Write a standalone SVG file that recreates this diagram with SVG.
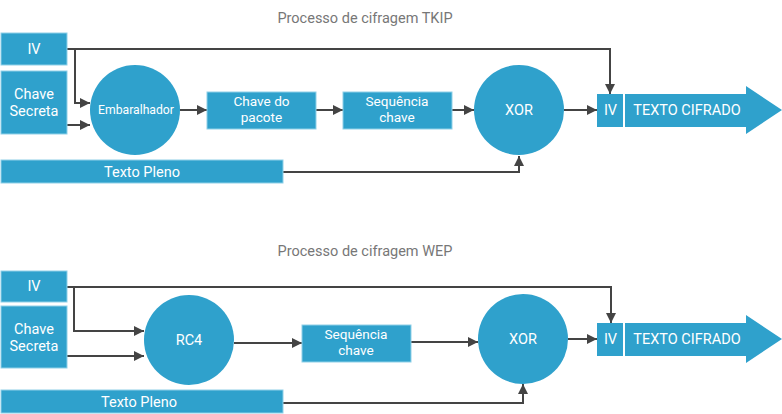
<svg xmlns="http://www.w3.org/2000/svg" width="782" height="414" viewBox="0 0 782 414">
<defs>
<marker id="ah" viewBox="0 0 10 10" refX="10" refY="5" markerWidth="10" markerHeight="10" markerUnits="userSpaceOnUse" orient="auto">
<path d="M0,0 L10,5 L0,10 z" fill="#444"/>
</marker>
</defs>
<style>
.b{fill:#2fa1cc;stroke:#8fd0e8;stroke-width:1}
.c{fill:#2fa1cc}
.t{font-family:Roboto,"Liberation Sans",sans-serif;font-size:14.5px;fill:#fff;text-anchor:middle}
.s{font-size:12.2px}
.m{font-size:13.6px}
.h{font-family:Roboto,"Liberation Sans",sans-serif;font-size:14.5px;fill:#777;text-anchor:middle}
.l{fill:none;stroke:#444;stroke-width:2;marker-end:url(#ah)}
</style>
<rect width="782" height="414" fill="#fff"/>
<text class="h" x="365" y="23">Processo de cifragem TKIP</text>
<text class="h" x="365" y="256">Processo de cifragem WEP</text>
<g id="connectors">
<path class="l" d="M67,49 H610 V94"/>
<path class="l" d="M75,49 V103 H90"/>
<path class="l" d="M67,125 H90"/>
<path class="l" d="M180,110 H207"/>
<path class="l" d="M316,110 H343"/>
<path class="l" d="M452,110 H474"/>
<path class="l" d="M564,110 H597"/>
<path class="l" d="M283,172 H519 V156"/>
<path class="l" d="M67,287 H611 V323"/>
<path class="l" d="M74,287 V331 H144"/>
<path class="l" d="M67,356 H144"/>
<path class="l" d="M234,343 H302"/>
<path class="l" d="M411,342 H478"/>
<path class="l" d="M568,339 H597"/>
<path class="l" d="M283,403 H523 V384"/>
</g>
<g id="tkip-iv"><rect class="b" x="1" y="33" width="66" height="32"/><text class="t" x="34" y="54">IV</text></g>
<g id="tkip-chave"><rect class="b" x="1" y="71" width="66" height="63"/><text class="t"><tspan x="34" y="99">Chave</tspan><tspan x="34" y="116">Secreta</tspan></text></g>
<g id="tkip-emb"><circle class="c" cx="135" cy="110" r="45"/><text class="t s" x="136" y="114">Embaralhador</text></g>
<g id="tkip-pacote"><rect class="b" x="207" y="92" width="109" height="37"/><text class="t m"><tspan x="261.5" y="106">Chave do</tspan><tspan x="261.5" y="122">pacote</tspan></text></g>
<g id="tkip-seq"><rect class="b" x="343" y="92" width="109" height="37"/><text class="t m"><tspan x="397" y="106">Sequência</tspan><tspan x="397" y="122">chave</tspan></text></g>
<g id="tkip-xor"><circle class="c" cx="519" cy="110" r="45"/><text class="t" x="519" y="115">XOR</text></g>
<g id="tkip-out"><rect class="c" x="597" y="94" width="26" height="33"/><text class="t" x="610.5" y="115">IV</text><path class="c" d="M625,94 H746 V86 L782,110 L746,134 V127 H625 z"/><text class="t" x="687" y="115">TEXTO CIFRADO</text></g>
<g id="tkip-texto"><rect class="b" x="1" y="160" width="282" height="23"/><text class="t" x="142" y="177">Texto Pleno</text></g>
<g id="wep-iv"><rect class="b" x="1" y="271" width="66" height="31"/><text class="t" x="34" y="291">IV</text></g>
<g id="wep-chave"><rect class="b" x="1" y="306" width="66" height="62"/><text class="t"><tspan x="34" y="334">Chave</tspan><tspan x="34" y="351">Secreta</tspan></text></g>
<g id="wep-rc4"><circle class="c" cx="189" cy="340" r="45"/><text class="t" x="189" y="345">RC4</text></g>
<g id="wep-seq"><rect class="b" x="302" y="325" width="109" height="37"/><text class="t m"><tspan x="356" y="339">Sequência</tspan><tspan x="356" y="355">chave</tspan></text></g>
<g id="wep-xor"><circle class="c" cx="523" cy="339" r="45"/><text class="t" x="523" y="344">XOR</text></g>
<g id="wep-out"><rect class="c" x="597" y="323" width="26" height="33"/><text class="t" x="610.5" y="344">IV</text><path class="c" d="M625,323 H746 V315 L782,339 L746,363 V356 H625 z"/><text class="t" x="687" y="344">TEXTO CIFRADO</text></g>
<g id="wep-texto"><rect class="b" x="1" y="390" width="282" height="23"/><text class="t" x="139" y="407">Texto Pleno</text></g>
</svg>
